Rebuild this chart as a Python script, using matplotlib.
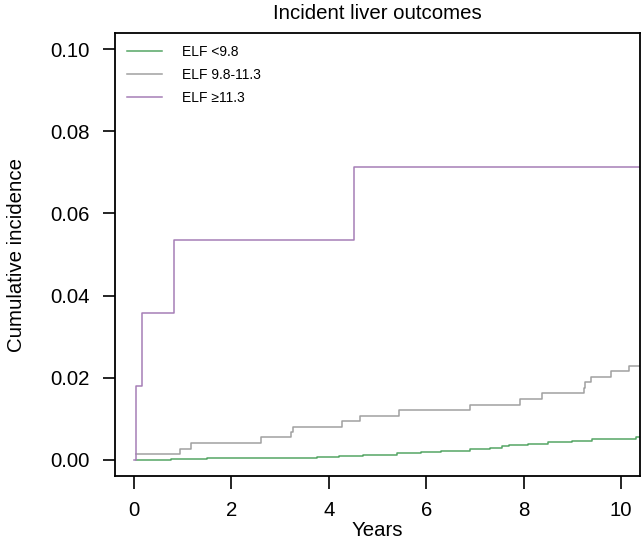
import matplotlib
matplotlib.use("Agg")
import matplotlib.pyplot as plt

plt.rcParams['font.family'] = ['Liberation Sans', 'DejaVu Sans']

# cumulative incidence step curves (time in years, value)
low_t = [0.04, 0.77, 1.5, 2.5, 3.75, 4.2, 4.7, 5.4, 5.9, 6.3, 6.9, 7.3, 7.55,
         7.7, 8.1, 8.5, 9.0, 9.4, 10.1, 10.3, 10.4]
low_y = [0.0, 0.0002, 0.0004, 0.0005, 0.0007, 0.0009, 0.0012, 0.0016, 0.0019,
         0.0022, 0.0026, 0.0029, 0.0034, 0.0036, 0.0039, 0.0042, 0.0046,
         0.0049, 0.0051, 0.0056, 0.0056]

mid_t = [0.04, 0.94, 1.18, 2.61, 3.22, 3.27, 4.28, 4.65, 5.44, 6.90, 7.93, 8.38,
         9.23, 9.27, 9.38, 9.79, 10.17, 10.4]
mid_y = [0.0013, 0.0026, 0.0040, 0.0054, 0.0067, 0.0080, 0.0093, 0.0107,
         0.0121, 0.0134, 0.0147, 0.0162, 0.0174, 0.0188, 0.0201, 0.0215,
         0.0229, 0.0229]

high_t = [0.0, 0.04, 0.16, 0.83, 4.52, 10.4]
high_y = [0.0, 0.0179, 0.0357, 0.0536, 0.0714, 0.0714]

labels = ['ELF <9.8', 'ELF 9.8-11.3', 'ELF \u226511.3']
colors = ['#55a565', '#a0a0a0', '#a67fb6']

fig = plt.figure(figsize=(6.41, 5.45), dpi=100)
ax = fig.add_axes([115 / 641, 69 / 545, 525 / 641, 443 / 545])

for t, y, lab, c in zip([low_t, mid_t, high_t], [low_y, mid_y, high_y], labels, colors):
    ax.step(t, y, where='post', color=c, lw=1.1, label=lab)

ax.set_xlim(-0.39, 10.39)
ax.set_ylim(-0.004, 0.104)
ax.set_xticks([0, 2, 4, 6, 8, 10])
ax.set_yticks([0.0, 0.02, 0.04, 0.06, 0.08, 0.10])
ax.set_yticklabels(['0.00', '0.02', '0.04', '0.06', '0.08', '0.10'])
ax.tick_params(direction='out', length=9, width=1.2, labelsize=14.7)
ax.tick_params(axis='x', pad=9)
ax.tick_params(axis='y', pad=9)

for s in ax.spines.values():
    s.set_linewidth(1.3)

ax.set_xlabel('Years', fontsize=14.7, labelpad=1)
ax.set_ylabel('Cumulative incidence', fontsize=14.7, labelpad=18)
ax.set_title('Incident liver outcomes', fontsize=14.7, pad=10)

ax.legend(loc='upper left', bbox_to_anchor=(0.0, 1.0), frameon=False,
          fontsize=10, handlelength=2.5, handletextpad=1.5, labelspacing=0.65,
          borderaxespad=0.45)

fig.savefig('out.png', dpi=100)
